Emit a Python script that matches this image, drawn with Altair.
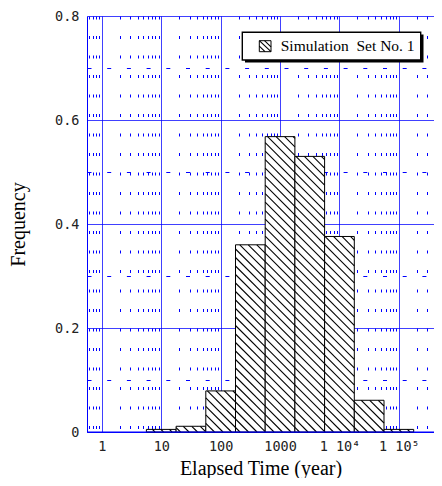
import math
import altair as alt
import pandas as pd

# ---- data ----
edge_lo_exp = [0.75, 1.25, 1.75, 2.25, 2.75, 3.25, 3.75, 4.25, 4.75]
edge_hi_exp = [1.25, 1.75, 2.25, 2.75, 3.25, 3.75, 4.25, 4.75, 5.25]
freq = [0.005, 0.011, 0.079, 0.36, 0.568, 0.53, 0.376, 0.061, 0.005]

x_major = [1, 10, 100, 1000, 10000, 100000]
x_major_labels = ["1", "10", "100", "1000", "1 10\u2074", "1 10\u2075"]
y_major = [0, 0.2, 0.4, 0.6, 0.8]
y_major_labels = ["0", "0.2", "0.4", "0.6", "0.8"]
y_minor = [0.1, 0.3, 0.5, 0.7]
minor_mult = [2, 3, 4, 5, 6, 7, 8, 9]
legend_label = "Simulation\u00a0 Set No. 1"

# ---- layout ----
D = 59.4            # px per decade
W, H = 347, 416
LMIN = -0.25
LMAX = LMIN + W / D
XMIN, XMAX = 10 ** LMIN, 10 ** LMAX
F = H / 0.8
BLUE = "#0000ff"
SERIF = "Liberation Serif"
MONO = "DejaVu Sans Mono"

bars = pd.DataFrame({
    "lo": [10 ** e for e in edge_lo_exp],
    "hi": [10 ** e for e in edge_hi_exp],
    "freq": freq,
})

x_minor = []
for d in range(-1, 6):
    for m in minor_mult:
        v = round(m * 10 ** d, 6)
        if XMIN < v < XMAX:
            x_minor.append(v)
x_grid = sorted(x_major + x_minor)
y_grid = sorted(y_major + y_minor)

# hatch segments (45 deg), clipped to each bar
step = 8.5
hatch = []
for lo_e, hi_e, f in zip(edge_lo_exp, edge_hi_exp, freq):
    u0 = (lo_e - LMIN) * D
    u1 = (hi_e - LMIN) * D
    h = f * F
    c = math.floor(u0 / step) * step + step
    while c < u1 + h:
        ua = max(u0, c - h)
        ub = min(u1, c)
        if ub > ua + 0.3:
            hatch.append({
                "hx": 10 ** (ua / D + LMIN), "hy": (c - ua) / F,
                "hx2": 10 ** (ub / D + LMIN), "hy2": (c - ub) / F,
            })
        c += step
hatch = pd.DataFrame(hatch)

xlab_expr = " : ".join(
    f"datum.value == {v} ? '{l}'" for v, l in zip(x_major, x_major_labels)
) + " : ''"
ylab_expr = " : ".join(
    f"abs(datum.value - {v}) < 1e-6 ? '{l}'" for v, l in zip(y_major, y_major_labels)
) + " : ''"
x_is_minor = f"indexof({x_major}, datum.value) < 0"
y_is_minor = "indexof([" + ",".join(str(v) for v in y_minor) + "], datum.value) >= 0"

xscale = alt.Scale(type="log", domain=[XMIN, XMAX], nice=False)
yscale = alt.Scale(domain=[0, 0.8], nice=False, zero=True)

xaxis = alt.Axis(
    values=x_grid, labelExpr=xlab_expr, grid=True, gridColor=BLUE, gridWidth=1,
    gridOpacity=1,
    gridDash={"condition": {"test": x_is_minor, "value": [3, 16.5]}, "value": [1, 0]},
    ticks=False, tickSize=0,
    domainColor=BLUE, domainWidth=1, labelFont=MONO, labelFontSize=13.5,
    labelColor="#222222", labelBaseline="alphabetic", labelPadding=18,
    labelFlush=False, labelOverlap=False,
    title="Elapsed Time (year)", titleFont=SERIF, titleFontSize=20,
    titleFontWeight="normal", titleColor="black", titleY=42,
    titleBaseline="alphabetic",
)
yaxis = alt.Axis(
    values=y_grid, labelExpr=ylab_expr, grid=True, gridColor=BLUE, gridWidth=1,
    gridOpacity=1,
    gridDash={"condition": {"test": y_is_minor, "value": [4, 15.7]}, "value": [1, 0]},
    ticks=False, tickSize=0,
    domainColor=BLUE, domainWidth=1, labelFont=MONO, labelFontSize=13.5,
    labelColor="#222222", labelPadding=8, labelBaseline="middle",
    labelFlush=False, labelOverlap=False,
    title="Frequency", titleFont=SERIF, titleFontSize=20, titleFontWeight="normal",
    titleColor="black", titleAngle=270, titleX=-63, titleY=H / 2,
    titleAlign="center", titleBaseline="alphabetic",
)

bar_layer = alt.Chart(bars).mark_rect(
    fill="white", stroke="black", strokeWidth=1
).encode(
    x=alt.X("lo:Q", scale=xscale, axis=xaxis), x2="hi:Q",
    y=alt.Y("freq:Q", scale=yscale, axis=yaxis), y2=alt.datum(0),
)
hatch_layer = alt.Chart(hatch).mark_rule(color="black", strokeWidth=1.1).encode(
    x=alt.X("hx:Q", scale=xscale, axis=xaxis), x2="hx2:Q",
    y=alt.Y("hy:Q", scale=yscale, axis=yaxis), y2="hy2:Q",
)

one = pd.DataFrame({"k": [0]})
base = alt.Chart(one).mark_rule(color=BLUE, strokeWidth=1).encode(
    y=alt.datum(0, scale=yscale))
shadow = alt.Chart(one).mark_rect(fill="black").encode(
    x=alt.value(158), x2=alt.value(336.5), y=alt.value(18.5), y2=alt.value(46.5))
box = alt.Chart(one).mark_rect(fill="white", stroke="black", strokeWidth=1.4).encode(
    x=alt.value(155.3), x2=alt.value(333.7), y=alt.value(16.3), y2=alt.value(44))
swatch = alt.Chart(one).mark_rect(fill="white", stroke="black", strokeWidth=1).encode(
    x=alt.value(172.3), x2=alt.value(184), y=alt.value(24.7), y2=alt.value(35.7))
sw1 = alt.Chart(one).mark_rule(color="black", strokeWidth=1.1).encode(
    x=alt.value(172.3), x2=alt.value(184), y=alt.value(24.7), y2=alt.value(35.7))
sw2 = alt.Chart(one).mark_rule(color="black", strokeWidth=1.1).encode(
    x=alt.value(177.5), x2=alt.value(184), y=alt.value(24.7), y2=alt.value(30.8))
sw3 = alt.Chart(one).mark_rule(color="black", strokeWidth=1.1).encode(
    x=alt.value(172.3), x2=alt.value(178), y=alt.value(30.2), y2=alt.value(35.7))
ltext = alt.Chart(one).mark_text(
    text=legend_label, font=SERIF, fontSize=15.5, align="left",
    baseline="alphabetic", color="black",
).encode(x=alt.value(193.7), y=alt.value(35))

chart = alt.layer(
    bar_layer, hatch_layer, base,
    shadow, box, swatch, sw1, sw2, sw3, ltext,
).properties(
    width=W, height=H,
    autosize=alt.AutoSizeParams(type="none"),
    padding={"left": 79, "top": 8, "right": 0, "bottom": 46},
).configure_view(stroke=None)

chart.save("out.html", embed_options={"renderer": "svg", "actions": False})
